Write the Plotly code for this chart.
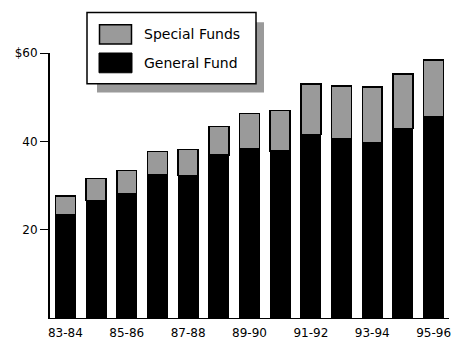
import plotly.graph_objects as go

years = ["83-84", "84-85", "85-86", "86-87", "87-88", "88-89", "89-90",
         "90-91", "91-92", "92-93", "93-94", "94-95", "95-96"]
general_fund = [23.4, 26.6, 28.1, 32.4, 32.3, 36.9, 38.4, 37.8, 41.5, 40.5, 39.7, 42.9, 45.5]
total_funds = [27.6, 31.6, 33.4, 37.7, 38.2, 43.4, 46.3, 47.0, 53.0, 52.5, 52.3, 55.2, 58.4]
special_funds = [round(t - g, 1) for t, g in zip(total_funds, general_fund)]
x_ticks = ["83-84", "85-86", "87-88", "89-90", "91-92", "93-94", "95-96"]
y_ticks = [20, 40, 60]
y_tick_text = ["20", "40", "$60"]

W, H = 465, 352
ML, MR, MT, MB = 50, 16, 53, 31
PW, PH = W - ML - MR, H - MT - MB

def px(x):
    return (x - ML) / PW

def py(y):
    return (H - MB - y) / PH

FONT = "DejaVu Sans, Verdana, sans-serif"
DITHER = "#9a9a9a"

fig = go.Figure()
fig.add_bar(x=years, y=general_fund, name="General Fund",
            marker=dict(color="black", line=dict(color="black", width=1)))
fig.add_bar(x=years, y=special_funds, name="Special Funds",
            marker=dict(color=DITHER, line=dict(color="black", width=1.5)))

shapes = []
# legend shadow
shapes.append(dict(type="rect", xref="paper", yref="paper",
                   x0=px(97), x1=px(264), y0=py(93), y1=py(22),
                   fillcolor=DITHER, line=dict(width=0), layer="above"))
# legend box
shapes.append(dict(type="rect", xref="paper", yref="paper",
                   x0=px(87), x1=px(256), y0=py(84), y1=py(12),
                   fillcolor="white", line=dict(color="black", width=1.5), layer="above"))
# swatches
shapes.append(dict(type="rect", xref="paper", yref="paper",
                   x0=px(99.5), x1=px(131.5), y0=py(44), y1=py(24.5),
                   fillcolor=DITHER, line=dict(color="black", width=1.5), layer="above"))
shapes.append(dict(type="rect", xref="paper", yref="paper",
                   x0=px(99), x1=px(132), y0=py(73), y1=py(53),
                   fillcolor="black", line=dict(color="black", width=1), layer="above"))

annotations = [
    dict(text="Special Funds", xref="paper", yref="paper", x=px(142), y=py(34),
         xanchor="left", yanchor="middle", showarrow=False,
         font=dict(family=FONT, size=14, color="black")),
    dict(text="General Fund", xref="paper", yref="paper", x=px(142), y=py(63),
         xanchor="left", yanchor="middle", showarrow=False,
         font=dict(family=FONT, size=14, color="black")),
]

fig.update_layout(
    barmode="stack",
    bargap=0.35,
    width=W, height=H,
    margin=dict(l=ML, r=MR, t=MT, b=MB, pad=0),
    paper_bgcolor="white", plot_bgcolor="white",
    showlegend=False,
    font=dict(family=FONT, size=12, color="black"),
    shapes=shapes, annotations=annotations,
    xaxis=dict(type="category", categoryorder="array", categoryarray=years,
               range=[-0.5, 12.5], tickmode="array", tickvals=x_ticks, ticktext=x_ticks,
               showline=True, linecolor="black", linewidth=1, ticks="",
               ticklabelstandoff=4,
               showgrid=False, zeroline=False, tickfont=dict(size=12)),
    yaxis=dict(range=[0, 60], tickmode="array", tickvals=y_ticks, ticktext=y_tick_text,
               showline=True, linecolor="black", linewidth=2, ticks="outside",
               ticklen=8, tickwidth=1, tickcolor="black",
               showgrid=False, zeroline=False, tickfont=dict(size=12)),
)

fig.write_html("out.html")
